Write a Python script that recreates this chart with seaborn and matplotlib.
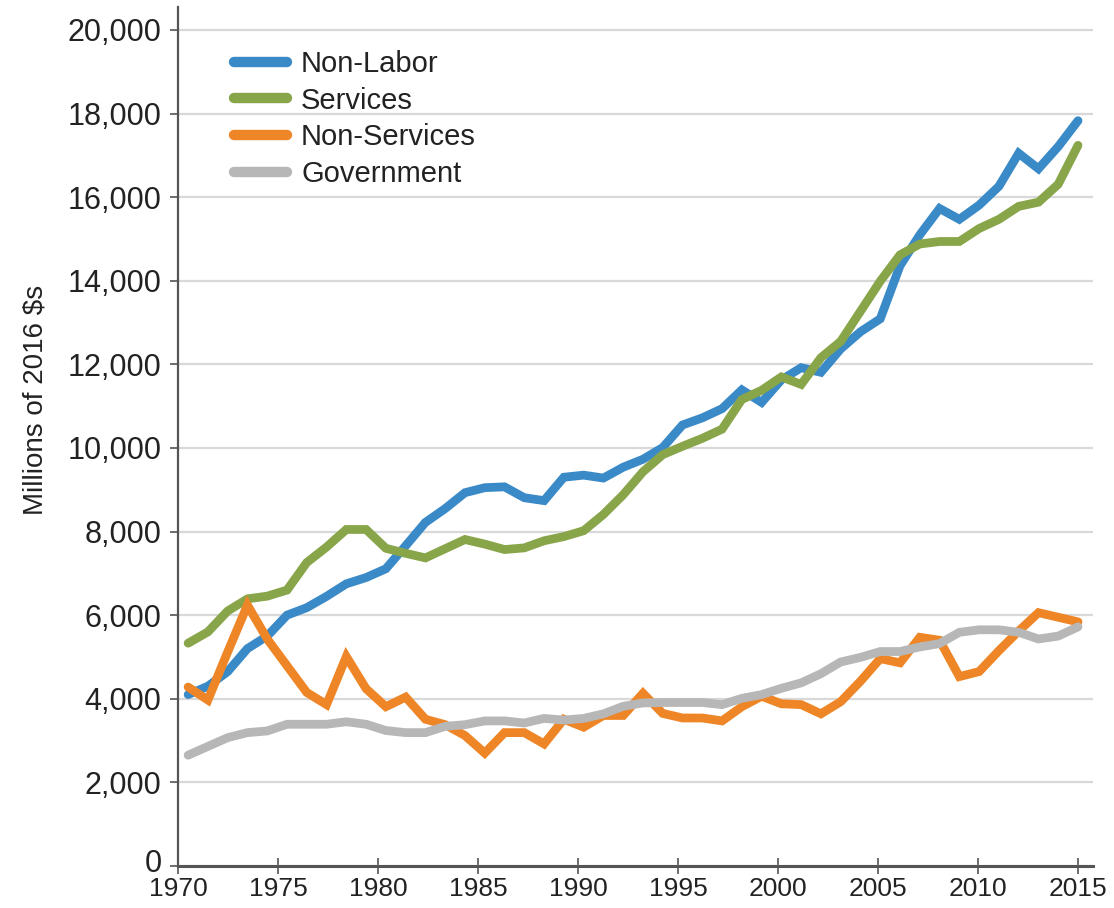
import numpy as np
import pandas as pd
import matplotlib
matplotlib.use("Agg")
import matplotlib.pyplot as plt
import matplotlib.transforms as mtransforms
import seaborn as sns
from matplotlib.ticker import FuncFormatter
from matplotlib.lines import Line2D

years = list(range(1970, 2016))

non_labor = [4100, 4300, 4650, 5200, 5500, 6000, 6180, 6450, 6750, 6900,
             7110, 7660, 8220, 8550, 8930, 9050, 9070, 8810, 8740, 9300,
             9350, 9280, 9540, 9730, 10010, 10550, 10720, 10940, 11390, 11090,
             11630, 11920, 11810, 12370, 12780, 13090, 14360, 15100, 15730, 15470,
             15810, 16260, 17050, 16680, 17210, 17830]

services = [5330, 5600, 6100, 6390, 6455, 6600, 7260, 7630, 8050, 8050,
            7600, 7480, 7370, 7590, 7810, 7700, 7570, 7610, 7780, 7880,
            8020, 8410, 8880, 9430, 9840, 10040, 10230, 10450, 11160, 11380,
            11700, 11520, 12160, 12550, 13270, 13990, 14620, 14880, 14940, 14940,
            15250, 15470, 15780, 15880, 16310, 17240]

non_services = [4280, 3970, 5120, 6240, 5430, 4790, 4150, 3860, 5010, 4240,
                3810, 4040, 3510, 3380, 3120, 2700, 3190, 3190, 2920, 3510,
                3320, 3600, 3600, 4130, 3650, 3540, 3540, 3470, 3810, 4060,
                3880, 3860, 3640, 3930, 4420, 4960, 4860, 5470, 5400, 4530,
                4650, 5150, 5620, 6060, 5950, 5840]

government = [2650, 2860, 3070, 3190, 3230, 3390, 3390, 3390, 3450, 3390,
              3240, 3190, 3190, 3340, 3380, 3470, 3470, 3420, 3530, 3490,
              3530, 3640, 3820, 3900, 3910, 3910, 3910, 3860, 4010, 4100,
              4250, 4380, 4600, 4880, 4990, 5130, 5130, 5240, 5320, 5590,
              5650, 5650, 5590, 5430, 5500, 5720]

series_names = ["Non-Labor", "Services", "Non-Services", "Government"]
colors = ["#3a8ac8", "#88a54a", "#ee8526", "#b7b7b7"]
tick_labels = ["1970", "1975", "1980", "1985", "1990", "1995", "2000", "2005", "2010", "2015"]

df = pd.DataFrame({
    "Year": years * 4,
    "Value": non_labor + services + non_services + government,
    "Series": sum([[n] * len(years) for n in series_names], []),
})

sns.set_theme(style="white")
plt.rcParams["font.family"] = ["Liberation Sans", "DejaVu Sans"]

fig = plt.figure(figsize=(11.14, 9.08), dpi=100)
ax = fig.add_axes([0.16, 0.0463, 0.821, 0.946])

ax.set_axisbelow(True)
ax.yaxis.grid(True, color="#d9d9d9", linewidth=1.6)
ax.xaxis.grid(False)

sns.lineplot(data=df, x="Year", y="Value", hue="Series", hue_order=series_names,
             palette=dict(zip(series_names, colors)), linewidth=6.3, ax=ax,
             legend=False)
for ln in ax.lines:
    ln.set_solid_capstyle("round")
    ln.set_solid_joinstyle("miter")

ax.set_xlim(1969.5, 2015.75)
ax.set_ylim(0, 20550)
ax.set_yticks(range(0, 20001, 2000))
ax.yaxis.set_major_formatter(FuncFormatter(lambda v, p: f"{int(v):,}"))
ax.set_xticks(np.linspace(1969.5, 2015.0, len(tick_labels)))
ax.set_xticklabels(tick_labels)

for s in ["top", "right"]:
    ax.spines[s].set_visible(False)
ax.spines["left"].set_color("#555555")
ax.spines["left"].set_linewidth(1.6)
ax.spines["bottom"].set_color("#555555")
ax.spines["bottom"].set_linewidth(2.2)

ax.tick_params(axis="y", which="major", direction="out", length=6, width=1.2,
               color="#555555", labelsize=22, labelcolor="#222222", pad=6, left=True)
ax.tick_params(axis="x", which="major", direction="inout", length=12, width=1.2,
               color="#555555", labelsize=19, labelcolor="#222222", pad=2, bottom=True)

ax.set_xlabel("")
ax.set_ylabel("Millions of 2016 $s", fontsize=20, color="#222222")
ax.yaxis.set_label_coords(-0.1416, 0.5425)

handles = [Line2D([0], [0], color=c, linewidth=7.5, solid_capstyle="round") for c in colors]
leg = ax.legend(handles, series_names, loc="upper left", bbox_to_anchor=(0.061, 0.95),
                frameon=False, fontsize=21, handlelength=1.8, handletextpad=0.5,
                labelspacing=0.3, borderpad=0, borderaxespad=0)
for t in leg.get_texts():
    t.set_color("#222222")

# lift the "0" label slightly so it does not collide with "1970"
zero_lbl = ax.yaxis.get_major_ticks()[0].label1
zero_lbl.set_transform(zero_lbl.get_transform() +
                       mtransforms.ScaledTranslation(0, 5 / 100, fig.dpi_scale_trans))

fig.savefig("out.png", dpi=100)
